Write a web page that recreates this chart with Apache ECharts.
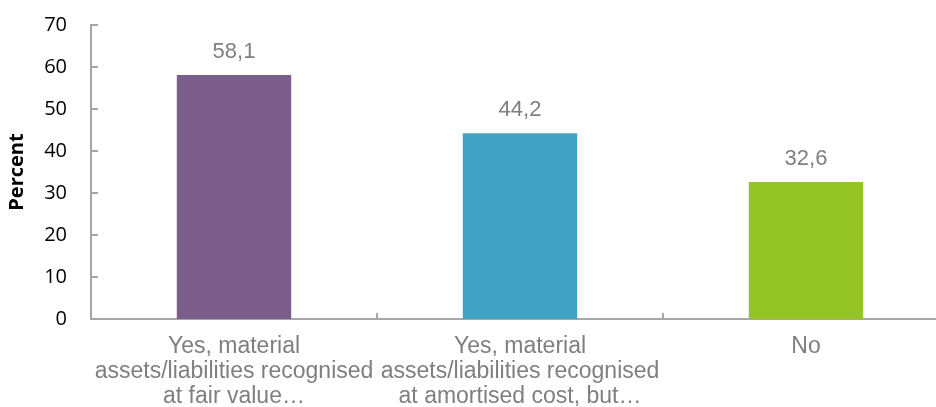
<!DOCTYPE html>
<html>
<head>
<meta charset="utf-8">
<script src="https://cdn.jsdelivr.net/npm/echarts@6/dist/echarts.min.js"></script>
<style>
  html, body { margin: 0; padding: 0; background: #fff; }
  #chart { width: 936px; height: 407px; }
</style>
</head>
<body>
<div id="chart"></div>
<script>
// カテゴリ（横軸のラベル）
const categories = [
  'Yes, material\nassets/liabilities recognised\nat fair value…',
  'Yes, material\nassets/liabilities recognised\nat amortised cost, but…',
  'No'
];

// 各棒の値（%）
const values = [58.1, 44.2, 32.6];

// 棒の色
const barColors = ['#7b5e8c', '#40a3c3', '#95c525'];

// 縦軸の目盛
const yMin = 0;
const yMax = 70;
const yStep = 10;

const chart = echarts.init(document.querySelector('#chart'));

const option = {
  animation: false,
  grid: {
    left: 91,
    right: -13,
    top: 25,
    bottom: 88,
    containLabel: false,
    outerBoundsMode: 'none'
  },
  xAxis: {
    type: 'category',
    data: categories,
    axisLine: { lineStyle: { color: '#a6a6a6', width: 2 } },
    axisTick: {
      show: true,
      inside: true,
      length: 6,
      alignWithLabel: false,
      lineStyle: { color: '#a6a6a6', width: 2 }
    },
    axisLabel: {
      color: '#7f7f7f',
      fontFamily: 'Liberation Sans',
      fontSize: 23,
      lineHeight: 25,
      margin: 15,
      interval: 0
    }
  },
  yAxis: {
    type: 'value',
    min: yMin,
    max: yMax,
    interval: yStep,
    name: 'Percent',
    nameLocation: 'middle',
    nameGap: 64,
    nameRotate: 90,
    nameTextStyle: {
      color: '#000',
      fontFamily: 'Open Sans',
      fontWeight: 'bold',
      fontSize: 20
    },
    splitLine: { show: false },
    axisLine: { show: true, lineStyle: { color: '#a6a6a6', width: 2 } },
    axisTick: {
      show: true,
      inside: true,
      length: 7,
      lineStyle: { color: '#a6a6a6', width: 2 }
    },
    axisLabel: {
      color: '#000',
      fontFamily: 'Open Sans',
      fontSize: 20,
      margin: 24
    }
  },
  series: [{
    type: 'bar',
    barWidth: '40%',
    data: values.map((v, i) => ({ value: v, itemStyle: { color: barColors[i] } })),
    label: {
      show: true,
      position: 'top',
      distance: 12,
      color: '#7f7f7f',
      fontFamily: 'Liberation Sans',
      fontSize: 22,
      formatter: p => p.value.toFixed(1).replace('.', ',')
    }
  }]
};

chart.setOption(option);
</script>
</body>
</html>
